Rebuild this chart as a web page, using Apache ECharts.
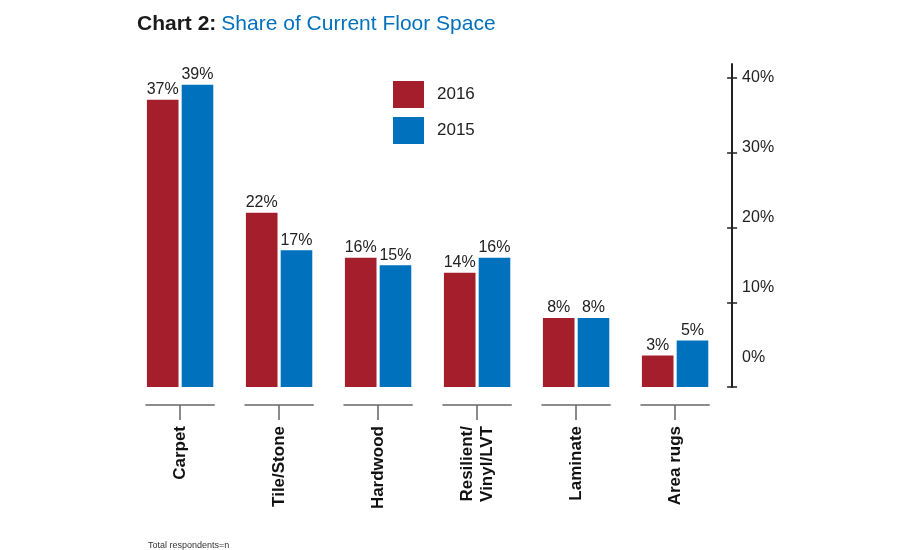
<!DOCTYPE html>
<html>
<head>
<meta charset="utf-8">
<script src="https://cdn.jsdelivr.net/npm/echarts@6/dist/echarts.min.js"></script>
<style>
html,body{margin:0;padding:0;background:#fff;}
#chart{width:900px;height:550px;}
</style>
</head>
<body>
<div id="chart"></div>
<script>
const categories = ['Carpet', 'Tile/Stone', 'Hardwood', 'Resilient/\nVinyl/LVT', 'Laminate', 'Area rugs'];
const values2016 = [37, 22, 16, 14, 8, 3];
const values2015 = [39, 17, 15, 16, 8, 5];
const tickLabels = [0, 10, 20, 30, 40];
const tickMarks = [10, 20, 30, 40];

const RED = '#A51E2B';
const BLUE = '#0071BC';
const FONT = '"Liberation Sans", Arial, Helvetica, sans-serif';

// bar scale axis range
const barMin = -1.18, barMax = 41.77;
// label axis range
const labMin = -4.14, labMax = 42.0;

const chart = echarts.init(document.getElementById('chart'));
chart.setOption({
  backgroundColor: '#fff',
  animation: false,
  textStyle: { fontFamily: FONT },
  title: [
    {
      left: 132, top: 9,
      text: '{a|Chart 2:} {b|Share of Current Floor Space}',
      textStyle: {
        rich: {
          a: { fontFamily: FONT, fontSize: 21, fontWeight: 'bold', color: '#1a1a1a' },
          b: { fontFamily: FONT, fontSize: 21, fontWeight: 'normal', color: BLUE }
        }
      }
    },
    {
      left: 143, top: 536,
      text: 'Total respondents=n',
      textStyle: { fontFamily: FONT, fontSize: 9, fontWeight: 'normal', color: '#333' }
    }
  ],
  legend: {
    data: ['2016', '2015'],
    orient: 'vertical',
    left: 393, top: 81,
    padding: 0,
    itemWidth: 31, itemHeight: 27, itemGap: 9,
    icon: 'rect',
    textStyle: { fontFamily: FONT, fontSize: 17, color: '#222', padding: [0, 0, 0, 8] }
  },
  grid: { left: 130.6, right: 175.4, top: 64, bottom: 163, containLabel: false },
  xAxis: {
    type: 'category',
    data: categories,
    offset: 18,
    axisLine: { show: false, onZero: false },
    axisTick: { show: true, alignWithLabel: true, length: 15, lineStyle: { color: '#666', width: 1.5 } },
    axisLabel: {
      rotate: 90, margin: 21, interval: 0,
      fontFamily: FONT, fontSize: 17, fontWeight: 'bold', color: '#111', lineHeight: 20
    },
    splitLine: { show: false }
  },
  yAxis: [
    {
      type: 'value', position: 'right', offset: 7.5,
      min: barMin, max: barMax, startValue: barMin,
      axisLine: { show: true, lineStyle: { color: '#222', width: 2 } },
      axisTick: { show: true, inside: false, length: 5, customValues: [barMin].concat(tickMarks), lineStyle: { color: '#222', width: 1.5 } },
      axisLabel: { show: false },
      splitLine: { show: false }
    },
    {
      type: 'value', position: 'right', offset: 7.5,
      min: barMin, max: barMax,
      axisLine: { show: false },
      axisTick: { show: true, inside: true, length: 5, customValues: [barMin].concat(tickMarks), lineStyle: { color: '#222', width: 1.5 } },
      axisLabel: { show: false },
      splitLine: { show: false }
    },
    {
      type: 'value', position: 'right', offset: 7.5,
      min: labMin, max: labMax,
      axisLine: { show: false },
      axisTick: { show: false },
      axisLabel: {
        show: true, margin: 10, customValues: tickLabels,
        formatter: v => v + '%',
        fontFamily: FONT, fontSize: 16, color: '#222'
      },
      splitLine: { show: false }
    }
  ],
  series: [
    {
      name: '2016', type: 'bar', yAxisIndex: 0,
      data: values2016,
      barWidth: 31.6, barGap: '10%',
      itemStyle: { color: RED },
      label: { show: true, position: 'top', distance: 2, formatter: '{c}%', fontFamily: FONT, fontSize: 16, color: '#222' }
    },
    {
      name: '2015', type: 'bar', yAxisIndex: 0,
      data: values2015,
      barWidth: 31.6, barGap: '10%',
      itemStyle: { color: BLUE },
      label: { show: true, position: 'top', distance: 2, formatter: '{c}%', fontFamily: FONT, fontSize: 16, color: '#222' }
    },
    {
      name: 'separators', type: 'custom', yAxisIndex: 0, silent: true, clip: false,
      data: categories.map((c, i) => [i, barMin]),
      renderItem: function (params, api) {
        const p = api.coord([api.value(0), api.value(1)]);
        const w = api.size([1, 0])[0] * 0.35;
        return {
          type: 'line',
          shape: { x1: p[0] - w, y1: p[1] + 18, x2: p[0] + w, y2: p[1] + 18 },
          style: { stroke: '#666', lineWidth: 1.5 }
        };
      }
    }
  ]
});
</script>
</body>
</html>
